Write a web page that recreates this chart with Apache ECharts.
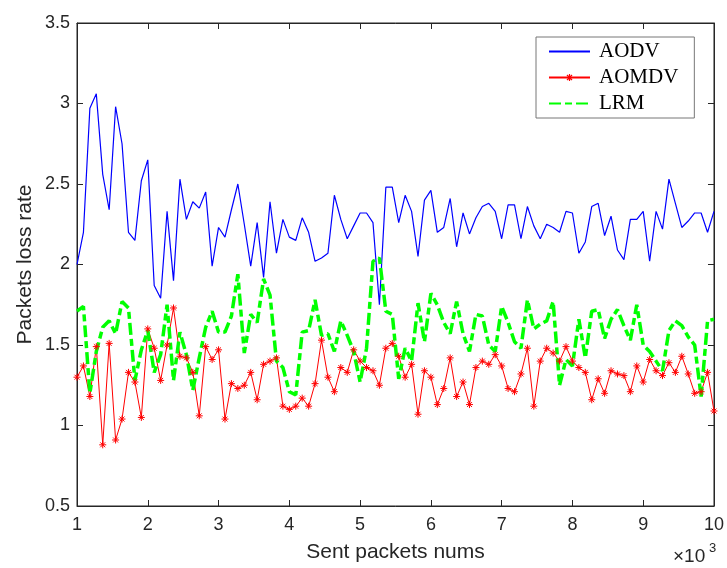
<!DOCTYPE html>
<html>
<head>
<meta charset="utf-8">
<script src="https://cdn.jsdelivr.net/npm/echarts@6/dist/echarts.min.js"></script>
<style>html,body{margin:0;padding:0;background:#fff;}#c{width:727px;height:568px;}</style>
</head>
<body>
<div id="c"></div>
<script>
// Sent packets (x10^3): 100 samples from 1 to 10
var sentCount = 100;
var aodv = [2.00,2.20,2.97,3.06,2.56,2.34,2.98,2.75,2.20,2.15,2.52,2.65,1.87,1.79,2.33,1.90,2.53,2.28,2.39,2.35,2.45,1.99,2.23,2.17,2.34,2.50,
  2.25,1.99,2.26,1.92,2.39,2.07,2.28,2.17,2.15,2.29,2.20,2.02,2.04,2.07,2.43,2.28,2.16,2.24,2.32,2.32,2.26,1.75,2.48,2.48,2.26,
  2.43,2.33,2.05,2.40,2.46,2.20,2.23,2.41,2.11,2.32,2.19,2.29,2.36,2.38,2.33,2.16,2.37,2.37,2.16,2.36,2.24,2.16,2.25,2.23,2.20,
  2.33,2.32,2.07,2.14,2.36,2.38,2.18,2.30,2.09,2.03,2.28,2.28,2.33,2.02,2.33,2.22,2.53,2.38,2.23,2.27,2.32,2.32,2.20,2.33];
var aomdv = [1.30,1.37,1.18,1.49,0.88,1.51,0.91,1.04,1.33,1.27,1.05,1.60,1.48,1.28,1.50,1.73,1.43,1.42,1.33,1.06,1.49,1.41,1.47,1.04,1.26,1.23,
  1.25,1.33,1.16,1.38,1.40,1.42,1.12,1.10,1.12,1.17,1.12,1.26,1.53,1.30,1.21,1.36,1.33,1.47,1.40,1.36,1.34,1.25,1.48,1.51,1.43,
  1.30,1.38,1.07,1.34,1.30,1.13,1.23,1.42,1.18,1.27,1.13,1.36,1.40,1.38,1.44,1.37,1.23,1.21,1.32,1.48,1.12,1.40,1.48,1.45,1.40,
  1.49,1.40,1.36,1.33,1.16,1.29,1.20,1.34,1.32,1.31,1.21,1.37,1.27,1.41,1.34,1.31,1.39,1.33,1.43,1.32,1.20,1.21,1.33,1.09];
var lrm = [1.71,1.74,1.20,1.46,1.61,1.65,1.57,1.77,1.73,1.28,1.47,1.59,1.33,1.44,1.75,1.28,1.58,1.44,1.22,1.42,1.61,1.71,1.58,1.58,1.68,1.94,
  1.45,1.69,1.64,1.91,1.81,1.40,1.36,1.21,1.19,1.58,1.59,1.78,1.56,1.57,1.46,1.65,1.56,1.46,1.27,1.48,2.02,2.04,1.71,1.69,1.29,
  1.48,1.40,1.76,1.52,1.82,1.75,1.64,1.57,1.77,1.57,1.46,1.69,1.68,1.50,1.46,1.74,1.64,1.52,1.48,1.78,1.60,1.63,1.65,1.77,1.25,
  1.41,1.37,1.66,1.42,1.71,1.72,1.54,1.66,1.72,1.62,1.53,1.75,1.50,1.46,1.40,1.34,1.59,1.65,1.62,1.55,1.50,1.18,1.65,1.66];
var seriesNames = ['AODV','AOMDV','LRM'];
var xMin = 1, xMax = 10, yMin = 0.5, yMax = 3.5;

var xs = [];
for (var i = 0; i < sentCount; i++) xs.push(xMin + i * (xMax - xMin) / (sentCount - 1));
function pairs(v){ return v.map(function(y,i){ return [xs[i], y]; }); }

var axisColor = '#262626';
var sans = 'Liberation Sans, Arial, sans-serif';
var star = 'path://M5 0 L5 10 M0 5 L10 5 M1.5 1.5 L8.5 8.5 M1.5 8.5 L8.5 1.5';

var chart = echarts.init(document.getElementById('c'), null, {renderer:'canvas'});
chart.setOption({
  animation: false,
  backgroundColor: '#fff',
  grid: {left: 77, right: 10, top: 23, bottom: 60, show: true, borderColor: axisColor, borderWidth: 1},
  legend: {
    orient: 'vertical', left: 536, top: 37,
    itemWidth: 41, itemHeight: 9, itemGap: 5,
    padding: [4, 16, 4, 12],
    borderColor: '#777', borderWidth: 1, backgroundColor: '#fff',
    textStyle: {fontFamily: 'Liberation Serif, Times New Roman, serif', fontSize: 21, color: '#000', lineHeight: 21, padding: [0,0,0,4]},
    data: [
      {name: seriesNames[0], itemStyle: {opacity: 0}},
      {name: seriesNames[1], itemStyle: {color: '#ff0000', borderColor: '#ff0000', borderWidth: 1.2}},
      {name: seriesNames[2], itemStyle: {opacity: 0}}
    ]
  },
  xAxis: [{
    type: 'value', min: xMin, max: xMax, interval: 1,
    name: 'Sent packets nums', nameLocation: 'middle', nameGap: 36, nameMoveOverlap: false,
    nameTextStyle: {fontFamily: sans, fontSize: 21, color: axisColor},
    axisLine: {show: true, lineStyle: {color: axisColor, width: 1}},
    axisTick: {show: true, inside: true, length: 6, lineStyle: {color: axisColor}},
    axisLabel: {fontFamily: sans, fontSize: 18, color: axisColor, margin: 10},
    splitLine: {show: false}
  },{
    type: 'value', min: xMin, max: xMax, interval: 1, position: 'top',
    axisLine: {show: true, lineStyle: {color: axisColor, width: 1}},
    axisTick: {show: true, inside: true, length: 6, lineStyle: {color: axisColor}},
    axisLabel: {show: false}, splitLine: {show: false}
  }],
  yAxis: [{
    type: 'value', min: yMin, max: yMax, interval: 0.5,
    name: 'Packets loss rate', nameLocation: 'middle', nameGap: 41, nameMoveOverlap: false,
    nameTextStyle: {fontFamily: sans, fontSize: 21, color: axisColor},
    axisLine: {show: true, lineStyle: {color: axisColor, width: 1}},
    axisTick: {show: true, inside: true, length: 6, lineStyle: {color: axisColor}},
    axisLabel: {fontFamily: sans, fontSize: 18, color: axisColor, margin: 7},
    splitLine: {show: false}
  },{
    type: 'value', min: yMin, max: yMax, interval: 0.5, position: 'right',
    axisLine: {show: true, lineStyle: {color: axisColor, width: 1}},
    axisTick: {show: true, inside: true, length: 6, lineStyle: {color: axisColor}},
    axisLabel: {show: false}, splitLine: {show: false}
  }],
  series: [{
    name: seriesNames[0], type: 'line', data: pairs(aodv), symbol: 'none',
    lineStyle: {color: '#0000ff', width: 1.2}, itemStyle: {color: '#0000ff'}
  },{
    name: seriesNames[1], type: 'line', data: pairs(aomdv),
    symbol: star, symbolSize: 7, showAllSymbol: true,
    lineStyle: {color: '#ff0000', width: 1},
    itemStyle: {color: '#ff0000', borderColor: '#ff0000', borderWidth: 1}
  },{
    name: seriesNames[2], type: 'line', data: pairs(lrm), symbol: 'none',
    lineStyle: {color: '#00ff00', width: 3.5, type: [12, 4, 7, 4]}, itemStyle: {color: '#00ff00'}
  }],
  graphic: [{
    type: 'text', left: 673, top: 547,
    style: {text: '×10', fontFamily: sans, fontSize: 19, fill: axisColor}
  },{
    type: 'text', left: 709, top: 542,
    style: {text: '3', fontFamily: sans, fontSize: 13, fill: axisColor}
  }]
});
</script>
</body>
</html>
